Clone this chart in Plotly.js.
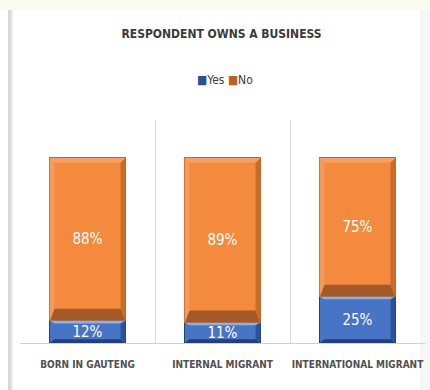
<!DOCTYPE html>
<html><head><meta charset="utf-8">
<script src="https://cdn.plot.ly/plotly-3.0.1.min.js"></script>
<style>html,body{margin:0;padding:0;background:#fff;}#chart{width:430px;height:390px;}</style>
</head><body><div id="chart"></div>
<script>
const categories = ["BORN IN GAUTENG", "INTERNAL MIGRANT", "INTERNATIONAL MIGRANT"];
const yesValues = [12, 11, 25];
const noValues = [88, 89, 75];
const seriesNames = ["Yes", "No"];

const W = 430, H = 390, M = {l: 20, r: 5, t: 120, b: 47};
const pw = W - M.l - M.r, ph = H - M.t - M.b;
const px2x = p => (p - M.l) / pw;
const py2y = p => (H - M.b - p) / ph;

const xs = categories.map((c, i) => i);
const barW = 0.56;
const FONT = "'DejaVu Sans Condensed', 'Liberation Sans Narrow', 'DejaVu Sans', sans-serif";

const traces = [
  {type: 'bar', name: seriesNames[0], x: xs, y: yesValues, width: barW,
   marker: {color: '#4874C6', line: {color: '#22407A', width: 1}},
   text: yesValues.map(v => v + '%'), textposition: 'inside', insidetextanchor: 'middle',
   constraintext: 'none', textfont: {color: '#ffffff', size: 15, family: FONT, stretch: 'condensed'},
   hoverinfo: 'skip', showlegend: false},
  {type: 'bar', name: seriesNames[1], x: xs, y: noValues, width: barW,
   marker: {color: '#F38A3D', line: {color: '#C0662A', width: 1}},
   text: noValues.map(v => v + '%'), textposition: 'inside', insidetextanchor: 'middle',
   constraintext: 'none', textfont: {color: '#ffffff', size: 15, family: FONT, stretch: 'condensed'},
   hoverinfo: 'skip', showlegend: false}
];

// bevel decoration derived from data
const shapes = [];
const dx = 0.035, dyTop = 2.4, dyBot = 6.5;
xs.forEach((x, i) => {
  const x0 = x - barW / 2, x1 = x + barW / 2;
  const b = yesValues[i], t = yesValues[i] + noValues[i];
  shapes.push({type: 'path', xref: 'x', yref: 'y', line: {width: 0}, fillcolor: '#A45A28',
    path: `M${x0},${b} L${x1},${b} L${x1 - dx},${b + dyBot} L${x0 + dx},${b + dyBot} Z`});
  shapes.push({type: 'path', xref: 'x', yref: 'y', line: {width: 0}, fillcolor: '#C86C2C',
    path: `M${x1},${b} L${x1},${t} L${x1 - dx},${t - dyTop} L${x1 - dx},${b + dyBot} Z`});
  shapes.push({type: 'path', xref: 'x', yref: 'y', line: {width: 0}, fillcolor: '#F6A064',
    path: `M${x0},${t} L${x1},${t} L${x1 - dx},${t - dyTop} L${x0 + dx},${t - dyTop} Z`});
  shapes.push({type: 'path', xref: 'x', yref: 'y', line: {width: 0}, fillcolor: '#F59A58',
    path: `M${x0},${b} L${x0},${t} L${x0 + dx},${t - dyTop} L${x0 + dx},${b + dyBot} Z`});
  shapes.push({type: 'path', xref: 'x', yref: 'y', line: {width: 0}, fillcolor: '#243F7A',
    path: `M${x0},0 L${x1},0 L${x1 - dx},2 L${x0 + dx},2 Z`});
  shapes.push({type: 'path', xref: 'x', yref: 'y', line: {width: 0}, fillcolor: '#8EB0E8',
    path: `M${x0},${b} L${x1},${b} L${x1 - dx},${b - 1.4} L${x0 + dx},${b - 1.4} Z`});
  shapes.push({type: 'path', xref: 'x', yref: 'y', line: {width: 0}, fillcolor: '#2E5299',
    path: `M${x1},0 L${x1},${b} L${x1 - dx},${b - 1.4} L${x1 - dx},2 Z`});
});
// card decoration
shapes.push({type: 'rect', xref: 'paper', yref: 'paper', layer: 'below', line: {width: 0}, fillcolor: '#FDFBEE',
  x0: px2x(0), x1: px2x(W), y0: py2y(10), y1: py2y(0)});
shapes.push({type: 'rect', xref: 'paper', yref: 'paper', layer: 'below', line: {width: 0}, fillcolor: '#D8D8D8',
  x0: px2x(8), x1: px2x(11), y0: py2y(H), y1: py2y(10)});
shapes.push({type: 'rect', xref: 'paper', yref: 'paper', layer: 'below', line: {width: 0}, fillcolor: '#EDEDED',
  x0: px2x(11), x1: px2x(13), y0: py2y(H), y1: py2y(10)});
shapes.push({type: 'rect', xref: 'paper', yref: 'paper', layer: 'below', line: {width: 0}, fillcolor: '#F7F7F7',
  x0: px2x(420), x1: px2x(W), y0: py2y(H), y1: py2y(10)});

const legendText = '<span style="color:#2D4F94">■</span>' + seriesNames[0] +
  ' <span style="color:#B8622A">■</span>' + seriesNames[1];

const layout = {
  width: W, height: H, margin: M,
  paper_bgcolor: '#ffffff', plot_bgcolor: 'rgba(0,0,0,0)',
  barmode: 'stack', showlegend: false,
  title: {text: '<b>RESPONDENT OWNS A BUSINESS</b>', x: 221.5 / W, xanchor: 'center', xref: 'container',
    y: 1 - 34 / H, yanchor: 'middle', yref: 'container',
    font: {family: FONT, size: 12, color: '#3A3A3A', stretch: 'condensed'}},
  annotations: [{text: legendText, xref: 'paper', yref: 'paper', x: px2x(225), y: py2y(80),
    xanchor: 'center', yanchor: 'middle', showarrow: false,
    font: {family: FONT, size: 12, color: '#404040', stretch: 'condensed'}}],
  xaxis: {range: [-0.5, 2.5], tickmode: 'array', tickvals: xs, ticktext: categories,
    showgrid: false, zeroline: false, showline: true, linecolor: '#D0D0D0', linewidth: 1,
    ticks: '', ticklabelstandoff: 12, ticklabeloverflow: 'allow', fixedrange: true, tickangle: 0,
    tickfont: {family: FONT, size: 10, color: '#505050', weight: 'bold', stretch: 'condensed'},
    minor: {tickmode: 'array', tickvals: [0.5, 1.5], showgrid: true, gridcolor: '#D9D9D9', gridwidth: 1, ticks: ''}},
  yaxis: {range: [0, 120.5], visible: false, showgrid: false, zeroline: false, fixedrange: true},
  shapes: shapes,
  bargap: 0
};
Plotly.newPlot('chart', traces, layout, {displayModeBar: false, staticPlot: true});
</script></body></html>
